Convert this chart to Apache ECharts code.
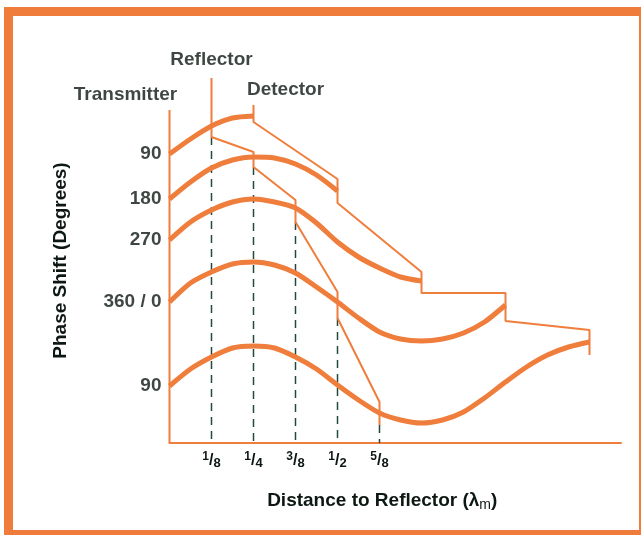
<!DOCTYPE html>
<html>
<head>
<meta charset="utf-8">
<script src="https://cdn.jsdelivr.net/npm/echarts@6/dist/echarts.min.js"></script>
<style>
    html, body { margin: 0; padding: 0; background: #fff; }
    #frame {
        position: absolute; left: 4px; top: 7px; right: 0; bottom: 0;
        border-top: 9px solid #ef7c3a; border-left: 9px solid #ef7c3a;
        border-right: 2px solid #ef7c3a; border-bottom: 5px solid #ef7c3a;
    }
    #chart { position: absolute; left: 0; top: 0; width: 641px; height: 535px; }
</style>
</head>
<body>
<div id="frame"></div>
<div id="chart"></div>
<script>
// distance in eighths of a wavelength, heights above the baseline
const tickPos = [1, 2, 3, 4, 5];
const tickNum = ['1', '1', '3', '1', '5'];
const tickDen = ['8', '4', '8', '2', '8'];
const phaseLabels = ['90', '180', '270', '360 / 0', '90'];

// round-trip phase curves, one point per half eighth
const curve1 = [289, 304, 317, 325, 327];
const curve2 = [244, 261, 275, 283, 286, 285, 279, 268, 252];
const curve3 = [203, 221, 233, 241, 244, 241, 235, 220, 201, 186, 175, 166, 162];
const curve4 = [141, 160, 171, 179, 181, 178, 170, 156, 141, 125, 111, 104, 102, 104, 110, 121, 138];
const curve5 = [57, 74, 86, 95, 97, 95, 86, 74, 58, 43, 30, 23, 20, 23, 31, 45, 61, 76, 88, 96, 101];

// reflector and detector marker chains
const reflX = [1, 1, 2, 2, 3, 3, 4, 4, 5, 5];
const reflY = [365, 306, 291, 276, 243, 221, 151, 125, 41, 18];
const detX = [2, 2, 4, 4, 6, 6, 8, 8, 10, 10];
const detY = [338, 321, 264, 240, 171, 150, 150, 122, 113, 88];
const transmitterTop = 333;

// dashed drop lines start heights
const dashTop = [306, 276, 221, 125, 18];

const orange = '#ef7d3c';
const ink = '#0e1813';
const font = 'Liberation Sans, Arial, DejaVu Sans, sans-serif';

const curves = [curve1, curve2, curve3, curve4, curve5];

let chart = echarts.init(document.getElementById('chart'));

let series = [];

curves.forEach((c) => {
    series.push({
        type: 'line',
        data: c.map((v, i) => [i / 2, v]),
        smooth: 0.25,
        showSymbol: false,
        lineStyle: { color: orange, width: 5 },
        z: 3,
    });
});

series.push({
    type: 'line',
    data: reflX.map((x, i) => [x, reflY[i]]),
    showSymbol: false,
    lineStyle: { color: orange, width: 2 },
    z: 4,
});

series.push({
    type: 'line',
    data: detX.map((x, i) => [x, detY[i]]),
    showSymbol: false,
    lineStyle: { color: orange, width: 2 },
    z: 4,
});

// transmitter line
series.push({
    type: 'line',
    data: [[0, transmitterTop], [0, 0]],
    showSymbol: false,
    lineStyle: { color: orange, width: 2 },
    z: 4,
});

tickPos.forEach((x, i) => {
    series.push({
        type: 'line',
        data: [[x, dashTop[i]], [x, 0]],
        showSymbol: false,
        lineStyle: { color: '#22483c', width: 1.5, type: [8, 6] },
        z: 2,
    });
});

// text annotations on the marker tops
series.push({
    type: 'scatter',
    symbolSize: 0,
    data: [
        { value: [reflX[0], reflY[0]], label: { formatter: 'Reflector', distance: 9 } },
        { value: [detX[0], detY[0]], label: { formatter: 'Detector', distance: 6, offset: [32, 0] } },
        { value: [0, transmitterTop], label: { formatter: 'Transmitter', distance: 6, offset: [-44, 0] } },
    ],
    label: {
        show: true,
        position: 'top',
        color: ink,
        fontFamily: font,
        fontWeight: 'bold',
        fontSize: 19,
    },
    silent: true,
});

// phase labels at curve starts
series.push({
    type: 'scatter',
    symbolSize: 0,
    data: curves.map((c, i) => ({ value: [0, c[0]], label: { formatter: phaseLabels[i] } })),
    label: {
        show: true,
        position: 'left',
        distance: 8,
        color: ink,
        fontFamily: font,
        fontWeight: 'bold',
        fontSize: 19,
    },
    silent: true,
});

const fracStyle = { color: ink, fontFamily: font, fontWeight: 'bold' };

let option = {
    animation: false,
    grid: { left: 169.5, right: 20, top: 78, bottom: 92 },
    xAxis: {
        type: 'value',
        min: 0,
        max: 10.75,
        interval: 1,
        axisLine: { show: true, lineStyle: { color: orange, width: 2 } },
        axisTick: { show: false },
        splitLine: { show: false },
        axisLabel: {
            margin: 8,
            formatter: (v) => {
                const k = tickPos.indexOf(v);
                return k >= 0 ? '{n|' + tickNum[k] + '}{s|/}{d|' + tickDen[k] + '}' : '';
            },
            rich: {
                n: Object.assign({ fontSize: 12, padding: [0, 0, 7, 0] }, fracStyle),
                s: Object.assign({ fontSize: 16 }, fracStyle),
                d: Object.assign({ fontSize: 13, padding: [5, 0, 0, 0] }, fracStyle),
            },
        },
        name: '{a|Distance to Reflector (λ}{s|m}{a|)}',
        nameLocation: 'middle',
        nameGap: 47,
        nameTextStyle: {
            padding: [0, 26, 0, 0],
            rich: {
                a: Object.assign({ fontSize: 19 }, fracStyle),
                s: { color: ink, fontFamily: font, fontSize: 14, padding: [8, 0, 0, 0] },
            },
        },
    },
    yAxis: {
        type: 'value',
        min: 0,
        max: 365,
        axisLine: { show: false },
        axisTick: { show: false },
        axisLabel: { show: false },
        splitLine: { show: false },
        name: 'Phase Shift (Degrees)',
        nameLocation: 'middle',
        nameRotate: 90,
        nameGap: 99,
        nameTextStyle: { color: ink, fontFamily: font, fontWeight: 'bold', fontSize: 19 },
    },
    series: series,
};

chart.setOption(option);
</script>
</body>
</html>
